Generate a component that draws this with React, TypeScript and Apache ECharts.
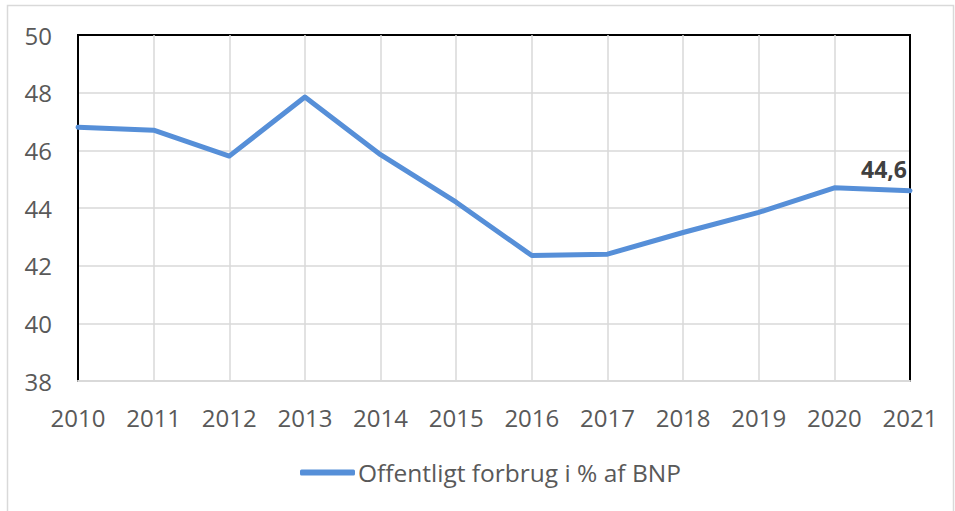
import React, { useEffect, useRef } from "react";
import * as echarts from "echarts";

const years = ["2010", "2011", "2012", "2013", "2014", "2015", "2016", "2017", "2018", "2019", "2020", "2021"];
const forbrug = [46.8, 46.7, 45.8, 47.85, 45.85, 44.2, 42.35, 42.4, 43.15, 43.85, 44.7, 44.6];
const seriesName = "Offentligt forbrug i % af BNP";
const yMin = 38;
const yMax = 50;
const yStep = 2;

export default function App() {
  const ref = useRef<HTMLDivElement>(null);
  useEffect(() => {
    if (!ref.current) return;
    const chart = echarts.init(ref.current, null, { renderer: "svg" });
    const font = "'Open Sans', 'Noto Sans', sans-serif";
    const lastIdx = forbrug.length - 1;
    chart.setOption({
      animation: false,
      backgroundColor: "#ffffff",
      textStyle: { fontFamily: font },
      graphic: [
        {
          type: "rect",
          shape: { x: 7.5, y: 5.5, width: 946, height: 540 },
          style: { fill: "none", stroke: "#d9d9d9", lineWidth: 1.5 },
          silent: true,
          z: -1,
        },
      ],
      grid: {
        left: 78,
        right: 45,
        top: 35,
        bottom: 130,
        show: true,
        borderColor: "#000000",
        borderWidth: 2,
        backgroundColor: "transparent",
        z: 3,
      },
      legend: {
        bottom: 26,
        left: 300,
        padding: 0,
        itemWidth: 55,
        itemHeight: 6,
        itemGap: 10,
        icon: "roundRect",
        data: [seriesName],
        itemStyle: { color: "#568FD8", opacity: 1 },
        textStyle: { fontFamily: font, fontSize: 24.5, color: "#595959", padding: [0, 0, 0, -2] },
      },
      xAxis: {
        type: "category",
        data: years,
        boundaryGap: false,
        z: 4,
        axisLine: { show: true, lineStyle: { color: "#d9d9d9", width: 2 } },
        axisTick: { show: false },
        splitLine: {
          show: true,
          interval: (i: number) => i !== 0 && i !== lastIdx,
          lineStyle: { color: "#d9d9d9", width: 1.5 },
        },
        axisLabel: { fontFamily: font, fontSize: 24, color: "#595959", margin: 24 },
      },
      yAxis: {
        type: "value",
        min: yMin,
        max: yMax,
        interval: yStep,
        z: 2,
        axisLine: { show: false },
        axisTick: { show: false },
        splitLine: { show: true, lineStyle: { color: "#d9d9d9", width: 1.5 } },
        axisLabel: { fontFamily: font, fontSize: 24, color: "#595959", margin: 26 },
      },
      series: [
        {
          name: seriesName,
          type: "line",
          data: forbrug.map((v, i) =>
            i === lastIdx
              ? {
                  value: v,
                  label: {
                    show: true,
                    position: "top",
                    offset: [-26, -5],
                    formatter: (p: any) => String(p.value).replace(".", ","),
                    fontFamily: font,
                    fontSize: 23,
                    fontWeight: "bold",
                    color: "#404040",
                  },
                }
              : v
          ),
          showSymbol: true,
          symbol: "circle",
          symbolSize: 1,
          lineStyle: { color: "#568FD8", width: 5, cap: "round", join: "round" },
          itemStyle: { color: "#568FD8" },
          z: 5,
        },
      ],
    });
    return () => chart.dispose();
  }, []);
  return (
    <div
      ref={ref}
      style={{ position: "fixed", left: 0, top: 0, width: 955, height: 511 }}
    />
  );
}
